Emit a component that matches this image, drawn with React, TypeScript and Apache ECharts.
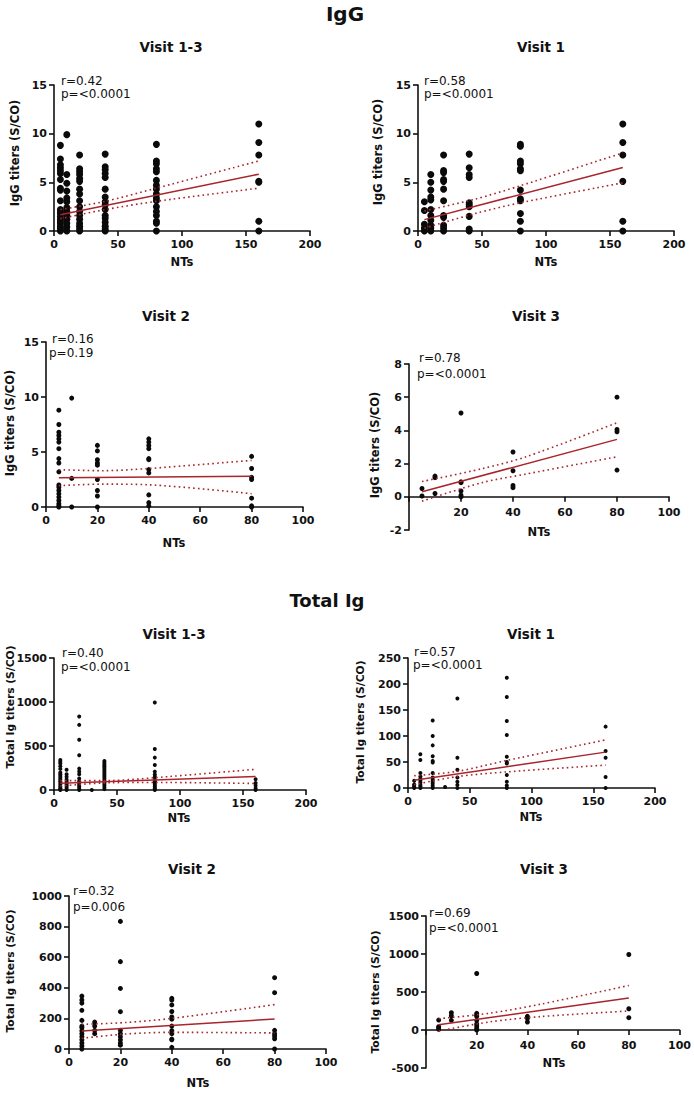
import React, { useEffect, useRef } from "react";
import * as echarts from "echarts";

const FONT = "DejaVu Sans";
const RED = "#a8252b";
const col = (x: number, ys: number[]) => ys.map((y) => [x, y]);

// ---------- IgG, Visit 1-3 ----------
const iggV13Pts = [
  ...col(5, [8.8, 7.4, 6.8, 6.5, 6.2, 5.9, 5.3, 4.4, 4.2, 3.1, 2.2, 2.0, 1.8, 1.5, 1.2, 1.0, 0.8, 0.5, 0.3, 0.1, 0]),
  ...col(10, [9.9, 5.8, 4.9, 4.1, 3.4, 3.0, 2.4, 2.0, 1.6, 1.2, 0.8, 0.4, 0]),
  ...col(20, [7.8, 6.4, 6.1, 5.8, 5.4, 5.1, 4.3, 3.8, 3.1, 2.5, 2.0, 1.6, 1.2, 0.8, 0.5, 0.2, 0]),
  ...col(40, [7.9, 6.6, 6.3, 5.9, 5.5, 4.3, 3.5, 3.0, 2.7, 2.2, 1.6, 1.3, 0.9, 0.5, 0.2, 0]),
  ...col(80, [8.9, 7.2, 6.9, 6.4, 6.1, 5.2, 4.7, 4.3, 3.8, 3.4, 3.1, 2.5, 2.0, 1.6, 1.0, 0.8, 0]),
  ...col(160, [11.0, 9.1, 7.8, 5.1, 5.0, 1.0, 0]),
];
const iggV13Fit = [[5, 1.68], [160, 5.84]];
const iggV13Upper = [[5, 2.2], [40, 3.05], [80, 4.4], [160, 7.2]];
const iggV13Lower = [[5, 1.27], [40, 2.2], [80, 3.05], [160, 4.4]];

// ---------- IgG, Visit 1 ----------
const iggV1Pts = [
  ...col(5, [3.0, 2.1, 0.7, 0.3, 0]),
  ...col(10, [5.8, 5.0, 4.2, 3.5, 3.2, 2.2, 1.6, 1.1, 0.6, 0.3, 0]),
  ...col(20, [7.8, 6.2, 6.0, 5.3, 5.1, 4.3, 3.1, 1.6, 1.4, 0.6, 0.3, 0]),
  ...col(40, [7.9, 6.5, 5.8, 5.5, 2.9, 2.7, 2.5, 1.5, 0.2, 0]),
  ...col(80, [8.9, 8.7, 7.2, 6.9, 6.4, 6.2, 4.2, 3.3, 3.1, 1.8, 1.0, 0]),
  ...col(160, [11.0, 9.1, 7.8, 5.1, 1.0, 0]),
];
const iggV1Fit = [[5, 1.17], [160, 6.52]];
const iggV1Upper = [[5, 2.06], [45, 3.29], [80, 4.65], [160, 8.03]];
const iggV1Lower = [[5, 0.29], [45, 1.81], [80, 2.9], [160, 4.95]];

// ---------- IgG, Visit 2 ----------
const iggV2Pts = [
  ...col(5, [8.8, 7.5, 6.8, 6.5, 6.2, 5.9, 5.3, 4.4, 4.0, 3.2, 2.0, 1.8, 1.5, 1.2, 0.9, 0.6, 0.3, 0.1, 0]),
  ...col(10, [9.9, 2.6, 0]),
  ...col(20, [5.6, 5.1, 4.3, 4.0, 3.8, 2.5, 1.5, 1.0, 0]),
  ...col(40, [6.2, 5.9, 5.6, 5.3, 4.4, 4.3, 3.4, 3.1, 1.1, 0.4, 0.1]),
  ...col(80, [4.6, 3.5, 2.7, 2.5, 0.8, 0.1, 0]),
];
const iggV2Fit = [[5, 2.67], [80, 2.79]];
const iggV2Upper = [[5, 3.39], [22, 3.3], [40, 3.5], [80, 4.24]];
const iggV2Lower = [[5, 1.94], [22, 2.08], [40, 2.02], [80, 1.21]];

// ---------- IgG, Visit 3 ----------
const iggV3Pts = [
  ...col(5, [0.5, 0.05]),
  ...col(10, [1.25, 1.15, 0.2]),
  ...col(20, [5.05, 0.9, 0.85, 0.35, 0.1, 0]),
  ...col(40, [2.7, 1.57, 0.68, 0.55]),
  ...col(80, [6.0, 4.06, 3.92, 1.61]),
];
const iggV3Fit = [[5, 0.3], [80, 3.46]];
const iggV3Upper = [[5, 0.92], [28, 1.69], [45, 2.41], [80, 4.46]];
const iggV3Lower = [[5, -0.26], [28, 0.85], [45, 1.37], [80, 2.41]];

// ---------- Total Ig, Visit 1-3 ----------
const totV13Pts = [
  ...col(5, [340, 320, 300, 270, 240, 200, 180, 160, 140, 120, 100, 80, 60, 40, 20, 10, 0]),
  ...col(10, [230, 180, 150, 120, 100, 80, 60, 40, 20, 0]),
  ...col(20, [835, 740, 570, 395, 243, 210, 180, 130, 100, 80, 60, 40, 20, 0]),
  ...col(30, [0]),
  ...col(40, [330, 310, 290, 270, 250, 230, 210, 190, 170, 150, 130, 110, 90, 70, 50, 30, 10]),
  ...col(80, [995, 467, 368, 285, 209, 175, 150, 120, 100, 80, 60, 40, 20, 0]),
  ...col(160, [122, 80, 50, 20, 0]),
];
const totV13Fit = [[5, 76], [160, 152]];
const totV13Upper = [[5, 106], [45, 108], [80, 140], [160, 235]];
const totV13Lower = [[5, 46], [45, 83], [80, 86], [160, 74]];

// ---------- Total Ig, Visit 1 ----------
const totV1Pts = [
  ...col(5, [14, 7, 4, 2, 0]),
  ...col(10, [65, 54, 29, 22, 18, 14, 10, 6, 3, 0]),
  ...col(20, [130, 100, 82, 61, 52, 49, 29, 20, 16, 12, 8, 4, 0]),
  ...col(30, [2]),
  ...col(40, [172, 58, 35, 20, 12, 6, 0]),
  ...col(80, [212, 175, 129, 102, 60, 50, 47, 25, 12, 5, 0]),
  ...col(160, [118, 71, 58, 21, 0]),
];
const totV1Fit = [[5, 14.7], [160, 69]];
const totV1Upper = [[5, 23.6], [40, 32], [80, 53], [160, 92.5]];
const totV1Lower = [[5, 6.4], [40, 22], [80, 31], [160, 44]];

// ---------- Total Ig, Visit 2 ----------
const totV2Pts = [
  ...col(5, [346, 320, 300, 253, 187, 150, 140, 120, 100, 80, 60, 40, 20, 0]),
  ...col(10, [176, 150, 122, 100]),
  ...col(20, [834, 571, 396, 244, 122, 100, 80, 60, 40, 25]),
  ...col(40, [331, 320, 288, 245, 209, 195, 150, 120, 100, 65, 60, 11]),
  ...col(80, [466, 368, 122, 100, 85, 67, 0]),
];
const totV2Fit = [[5, 118], [80, 196]];
const totV2Upper = [[5, 161], [22, 173], [40, 200], [80, 290]];
const totV2Lower = [[5, 70], [22, 98], [40, 109], [80, 105]];

// ---------- Total Ig, Visit 3 ----------
const totV3Pts = [
  ...col(5, [131, 44, 30, 10]),
  ...col(10, [227, 188, 127]),
  ...col(20, [743, 219, 197, 180, 127, 80, 52, 20, 0]),
  ...col(40, [179, 153, 105]),
  ...col(80, [993, 280, 162]),
];
const totV3Fit = [[5, 70], [80, 420]];
const totV3Upper = [[5, 149], [25, 220], [45, 338], [80, 586]];
const totV3Lower = [[5, -13], [25, 106], [45, 176], [80, 250]];

const IGG_Y = "IgG titers (S/CO)";
const TOT_Y = "Total Ig titers (S/CO)";

const panels = [
  { pts: iggV13Pts, fit: iggV13Fit, up: iggV13Upper, lo: iggV13Lower, grid: { left: 54, top: 85, width: 256, height: 146 }, xMax: 200, xInt: 50, yMin: 0, yMax: 15, yInt: 5, hide0: false, xm: 8, title: "Visit 1-3", tx: 171, ty: 47, r: "r=0.42", p: "p=<0.0001", rx: 61, ry: 81, px: 61, py: 94, yName: IGG_Y, yfs: 11.5, nx: 15, ny: 153, ntx: 182, nty: 262, size: 7 },
  { pts: iggV1Pts, fit: iggV1Fit, up: iggV1Upper, lo: iggV1Lower, grid: { left: 418, top: 85, width: 256, height: 146 }, xMax: 200, xInt: 50, yMin: 0, yMax: 15, yInt: 5, hide0: false, xm: 8, title: "Visit 1", tx: 541, ty: 47, r: "r=0.58", p: "p=<0.0001", rx: 424, ry: 81, px: 424, py: 94, yName: IGG_Y, yfs: 11.5, nx: 378, ny: 152, ntx: 546, nty: 262, size: 7 },
  { pts: iggV2Pts, fit: iggV2Fit, up: iggV2Upper, lo: iggV2Lower, grid: { left: 46, top: 342, width: 257, height: 165 }, xMax: 100, xInt: 20, yMin: 0, yMax: 15, yInt: 5, hide0: false, xm: 8, title: "Visit 2", tx: 166, ty: 316, r: "r=0.16", p: "p=0.19", rx: 52, ry: 339, px: 49, py: 353, yName: IGG_Y, yfs: 11.5, nx: 10, ny: 423, ntx: 174, nty: 543, size: 5 },
  { pts: iggV3Pts, fit: iggV3Fit, up: iggV3Upper, lo: iggV3Lower, grid: { left: 409, top: 364, width: 260, height: 166 }, xMax: 100, xInt: 20, yMin: -2, yMax: 8, yInt: 2, hide0: true, xm: -23.5, title: "Visit 3", tx: 536, ty: 316, r: "r=0.78", p: "p=<0.0001", rx: 419, ry: 358, px: 417, py: 374, yName: IGG_Y, yfs: 11.5, nx: 375, ny: 445, ntx: 539, nty: 532, size: 5 },
  { pts: totV13Pts, fit: totV13Fit, up: totV13Upper, lo: totV13Lower, grid: { left: 54, top: 658, width: 252, height: 132 }, xMax: 200, xInt: 50, yMin: 0, yMax: 1500, yInt: 500, hide0: false, xm: 8, title: "Visit 1-3", tx: 174, ty: 634, r: "r=0.40", p: "p=<0.0001", rx: 62, ry: 653, px: 61, py: 667, yName: TOT_Y, yfs: 10.7, nx: 10, ny: 707, ntx: 179, nty: 818, size: 4 },
  { pts: totV1Pts, fit: totV1Fit, up: totV1Upper, lo: totV1Lower, grid: { left: 408, top: 658, width: 247, height: 130 }, xMax: 200, xInt: 50, yMin: 0, yMax: 250, yInt: 50, hide0: false, xm: 8, title: "Visit 1", tx: 531, ty: 634, r: "r=0.57", p: "p=<0.0001", rx: 414, ry: 652, px: 413, py: 665, yName: TOT_Y, yfs: 10.7, nx: 360, ny: 722, ntx: 531, nty: 817, size: 4 },
  { pts: totV2Pts, fit: totV2Fit, up: totV2Upper, lo: totV2Lower, grid: { left: 69, top: 896, width: 257, height: 153 }, xMax: 100, xInt: 20, yMin: 0, yMax: 1000, yInt: 200, hide0: false, xm: 8, title: "Visit 2", tx: 192, ty: 869, r: "r=0.32", p: "p=0.006", rx: 73, ry: 891, px: 73, py: 907, yName: TOT_Y, yfs: 10.7, nx: 10, ny: 971, ntx: 198, nty: 1083, size: 5 },
  { pts: totV3Pts, fit: totV3Fit, up: totV3Upper, lo: totV3Lower, grid: { left: 426, top: 916, width: 257, height: 152 }, xMax: 100, xInt: 20, yMin: -500, yMax: 1500, yInt: 500, hide0: true, xm: -28.5, title: "Visit 3", tx: 544, ty: 869, r: "r=0.69", p: "p=<0.0001", rx: 429, ry: 913, px: 429, py: 928, yName: TOT_Y, yfs: 10.7, nx: 375, ny: 992, ntx: 554, nty: 1063, size: 5 },
];

function txt(text: string, x: number, y: number, fontSize: number, bold: boolean, align = "center", rotation = 0) {
  return {
    type: "text",
    x,
    y,
    rotation,
    z: 10,
    style: {
      text,
      fontFamily: FONT,
      fontSize,
      fontWeight: bold ? "bold" : "normal",
      fill: "#111",
      align,
      verticalAlign: "middle",
    },
  };
}

function buildOption() {
  const axisLine = { show: true, onZero: true, lineStyle: { color: "#111", width: 1.6 } };
  const axisTick = { show: true, length: 5, lineStyle: { color: "#111", width: 1.6 } };
  const labelBase = { fontFamily: FONT, fontWeight: "bold", fontSize: 11, color: "#111" };

  const grid = panels.map((p) => ({ ...p.grid, containLabel: false }));
  const xAxis = panels.map((p, i) => ({
    type: "value",
    gridIndex: i,
    min: 0,
    max: p.xMax,
    interval: p.xInt,
    axisLine,
    axisTick,
    splitLine: { show: false },
    axisLabel: { ...labelBase, margin: p.xm, formatter: (v: number) => (p.hide0 && v === 0 ? "" : String(v)) },
  }));
  const yAxis = panels.map((p, i) => ({
    type: "value",
    gridIndex: i,
    min: p.yMin,
    max: p.yMax,
    interval: p.yInt,
    axisLine,
    axisTick,
    splitLine: { show: false },
    axisLabel: { ...labelBase, margin: 7, formatter: (v: number) => String(v) },
  }));

  const series: any[] = [];
  panels.forEach((p, i) => {
    series.push({
      type: "scatter",
      xAxisIndex: i,
      yAxisIndex: i,
      data: p.pts,
      symbol: "circle",
      symbolSize: p.size,
      itemStyle: { color: "#0a0a0a", opacity: 1 },
      z: 2,
    });
    series.push({
      type: "line",
      xAxisIndex: i,
      yAxisIndex: i,
      data: p.fit,
      showSymbol: false,
      symbol: "none",
      lineStyle: { color: RED, width: 1.5 },
      z: 3,
    });
    [p.up, p.lo].forEach((d) =>
      series.push({
        type: "line",
        xAxisIndex: i,
        yAxisIndex: i,
        data: d,
        showSymbol: false,
        symbol: "none",
        smooth: 0.3,
        lineStyle: { color: RED, width: 1.6, type: [1.6, 3.2] },
        z: 3,
      })
    );
  });

  const graphic: any[] = [
    txt("IgG", 345, 14, 20, true),
    txt("Total Ig", 327, 600, 18, true),
  ];
  panels.forEach((p) => {
    graphic.push(txt(p.title, p.tx, p.ty, 13.5, true));
    graphic.push(txt(p.r, p.rx, p.ry, 12, false, "left"));
    graphic.push(txt(p.p, p.px, p.py, 12, false, "left"));
    graphic.push(txt(p.yName, p.nx, p.ny, p.yfs, true, "center", Math.PI / 2));
    graphic.push(txt("NTs", p.ntx, p.nty, 11.5, true));
  });

  return {
    animation: false,
    backgroundColor: "#ffffff",
    grid,
    xAxis,
    yAxis,
    series,
    graphic,
  };
}

export default function App() {
  const ref = useRef<HTMLDivElement>(null);
  useEffect(() => {
    document.body.style.margin = "0";
    if (!ref.current) return;
    const chart = echarts.init(ref.current, undefined, { renderer: "svg" });
    chart.setOption(buildOption() as any);
    return () => chart.dispose();
  }, []);
  return <div ref={ref} style={{ width: 694, height: 1093, background: "#fff" }} />;
}
